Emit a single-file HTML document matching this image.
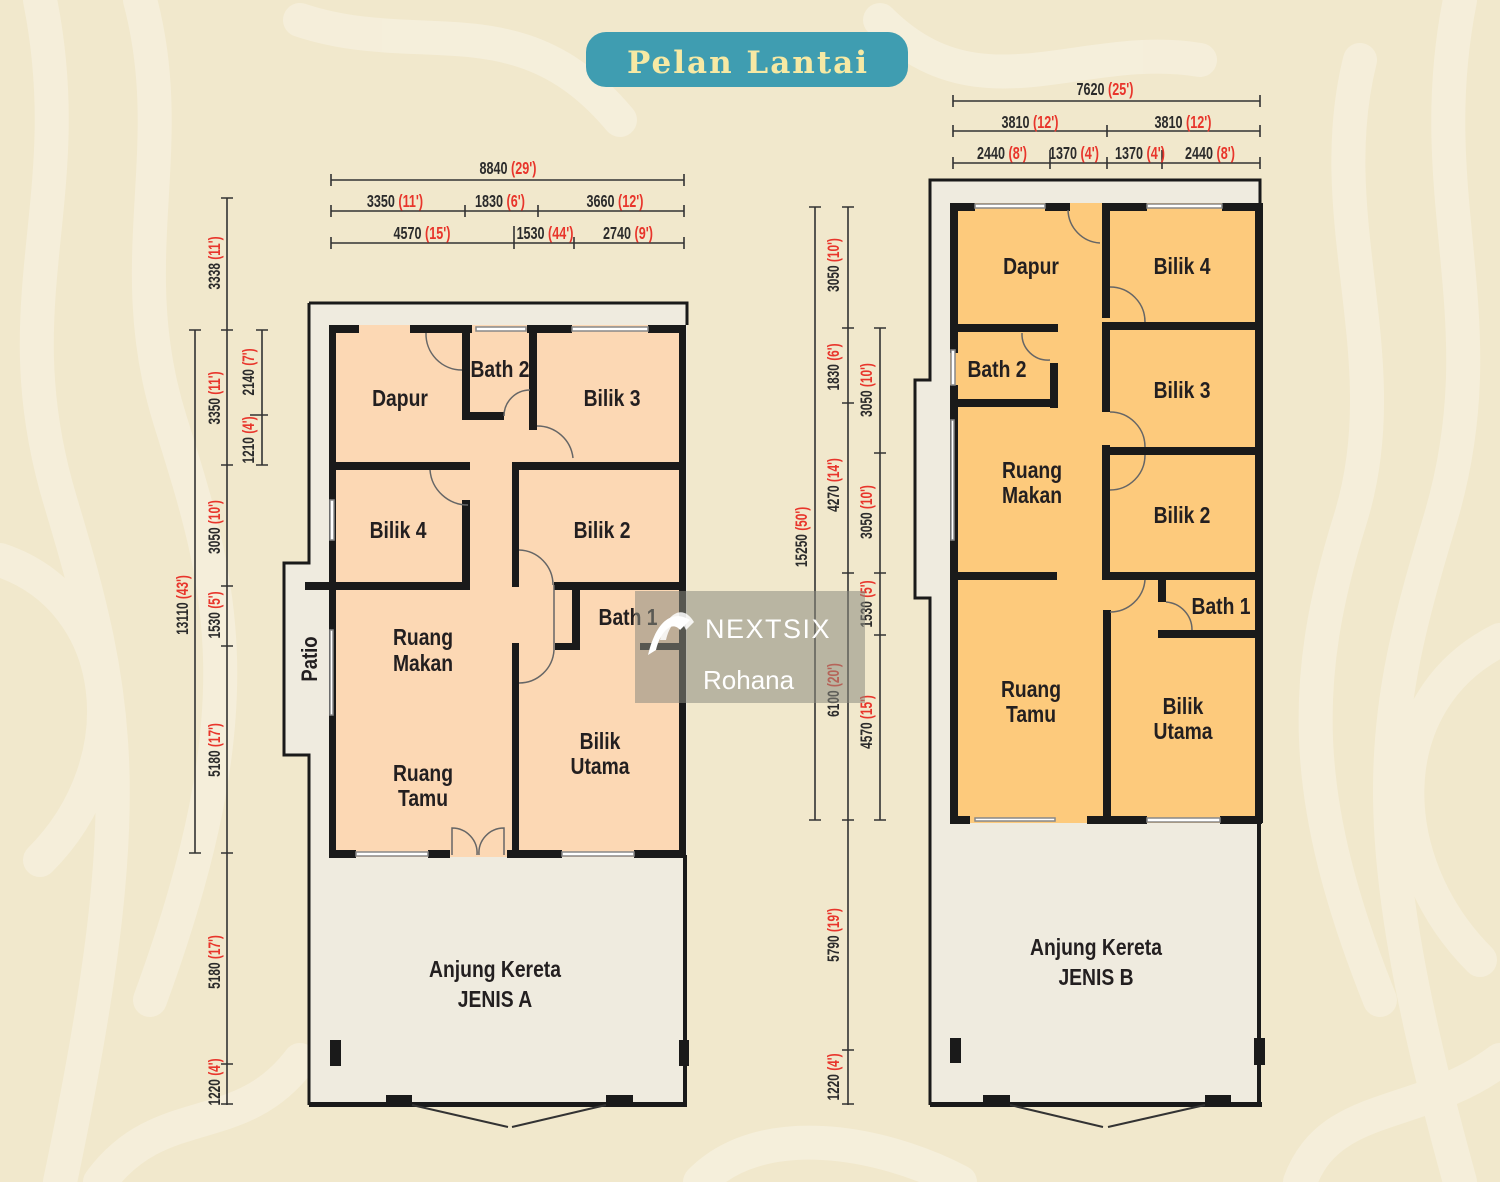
<!DOCTYPE html>
<html><head><meta charset="utf-8"><style>
html,body{margin:0;padding:0;background:#f2eacf}
svg{display:block}
.t{font-family:"Liberation Sans",sans-serif;font-weight:bold;fill:#231f20}
.d{font-family:"Liberation Sans",sans-serif;font-weight:bold;fill:#2b2b2b;font-size:18px}
.r{fill:#e8352b}
.w{fill:#1a1a1a}
.n{transform-box:fill-box;transform-origin:center;transform:scaleX(0.7)}
.m{transform-box:fill-box;transform-origin:center;transform:scaleX(0.84)}
.door{stroke:#666;stroke-width:1.5;fill:none}
</style></head><body>
<svg width="1500" height="1182" viewBox="0 0 1500 1182" xmlns="http://www.w3.org/2000/svg">
<rect width="1500" height="1182" fill="#f1e8cc"/>
<g fill="none" stroke="#f8f3e4" stroke-width="34" stroke-linecap="round" opacity="0.6">
<path d="M40 0 C80 200 0 300 60 500 S140 800 60 1182"/>
<path d="M140 0 C180 150 120 260 170 420 S260 700 150 1000"/>
<path d="M0 560 C120 600 140 760 40 860"/>
<path d="M1460 0 C1420 200 1500 320 1440 520 S1360 820 1460 1182"/>
<path d="M1360 60 C1320 220 1400 360 1350 520 S1300 800 1380 1000"/>
<path d="M1500 640 C1380 700 1380 860 1480 960"/>
<path d="M300 20 C420 60 520 0 620 120"/>
<path d="M880 20 C980 120 1080 40 1200 60"/>
<path d="M700 1182 C760 1120 880 1140 960 1182"/>
<path d="M100 1182 C160 1100 240 1140 300 1060"/>
<path d="M1300 1182 C1330 1100 1420 1120 1500 1060"/>
</g>
<rect x="586" y="32" width="322" height="55" rx="20" fill="#3f9db1"/>
<text x="748" y="73" text-anchor="middle" font-family="'DejaVu Serif','Liberation Serif',serif" font-weight="bold" font-size="31" letter-spacing="2" fill="#f6e9a4">Pelan Lantai</text>

<!-- LEFT PLAN -->
<path d="M309 303 H687 V1107 H309 V755 H284 V563 H309 Z" fill="#efebdf"/>
<path d="M309 303 H687 V325 M309 303 V563 H284 V755 H309 V1105" fill="none" stroke="#1a1a1a" stroke-width="3"/>
<rect x="329" y="325" width="355" height="532" fill="#fcd8b4"/>
<g class="w">
<rect x="329" y="325" width="7" height="532"/>
<rect x="329" y="325" width="30" height="8"/><rect x="410" y="325" width="52" height="8"/>
<rect x="462" y="325" width="10" height="8"/><rect x="527" y="325" width="45" height="8"/><rect x="648" y="325" width="36" height="8"/>
<rect x="679" y="325" width="7" height="532"/>
<rect x="462" y="325" width="8" height="95"/><rect x="462" y="412" width="42" height="8"/>
<rect x="529" y="325" width="8" height="105"/>
<rect x="333" y="462" width="137" height="8"/><rect x="512" y="462" width="172" height="8"/>
<rect x="462" y="500" width="8" height="88"/>
<rect x="512" y="462" width="7" height="125"/>
<rect x="305" y="582" width="165" height="8"/><rect x="554" y="582" width="130" height="8"/>
<rect x="572" y="585" width="8" height="60"/><rect x="555" y="643" width="25" height="7"/><rect x="640" y="643" width="44" height="7"/>
<rect x="512" y="643" width="7" height="214"/>
<rect x="329" y="850" width="27" height="8"/><rect x="428" y="850" width="22" height="8"/>
<rect x="507" y="850" width="55" height="8"/><rect x="634" y="850" width="50" height="8"/>
<rect x="683" y="855" width="4" height="252"/><rect x="679" y="1040" width="10" height="26"/>
<rect x="330" y="1040" width="11" height="26"/>
<rect x="309" y="1102" width="378" height="5"/>
<rect x="386" y="1095" width="26" height="12"/><rect x="606" y="1095" width="27" height="12"/>
</g>
<g stroke="#888" stroke-width="1.5" fill="#fff">
<rect x="476" y="327" width="50" height="4"/><rect x="572" y="327" width="76" height="4"/>
<rect x="356" y="852" width="72" height="4"/><rect x="562" y="852" width="72" height="4"/>
<rect x="330" y="500" width="4" height="40"/><rect x="330" y="630" width="3" height="85"/>
</g>
<path d="M412 1105 L508 1127 M512 1127 L606 1105" stroke="#333" stroke-width="2"/>
<g class="door">
<path d="M426 333 A36 36 0 0 0 462 370"/><path d="M504 416 A26 26 0 0 1 530 390"/>
<path d="M537 426 A36 36 0 0 1 573 458"/><path d="M430 470 A38 38 0 0 0 468 505"/>
<path d="M519 550 A35 35 0 0 1 553 585"/><path d="M519 683 A35 35 0 0 0 554 650"/>
<path d="M452 855 V828 A25 25 0 0 1 477 855"/><path d="M504 855 V828 A25 25 0 0 0 479 855"/>
<path d="M554 650 V585"/>
</g>
<g class="t" font-size="23" text-anchor="middle">
<text class="m" x="400" y="406">Dapur</text><text class="m" x="500" y="377">Bath 2</text><text class="m" x="612" y="406">Bilik 3</text>
<text class="m" x="398" y="538">Bilik 4</text><text class="m" x="602" y="538">Bilik 2</text>
<text class="m" x="628" y="625">Bath 1</text>
<text class="m" x="423" y="645">Ruang</text><text class="m" x="423" y="671">Makan</text>
<text class="m" x="423" y="781">Ruang</text><text class="m" x="423" y="806">Tamu</text>
<text class="m" x="600" y="749">Bilik</text><text class="m" x="600" y="774">Utama</text>
<text class="m" x="495" y="977">Anjung Kereta</text><text class="m" x="495" y="1007">JENIS A</text>
<g transform="translate(317 659) rotate(-90)"><text class="m" x="0" y="0" font-size="22">Patio</text></g>
</g>

<!-- RIGHT PLAN -->
<path d="M930 180 H1260 V1107 H930 V598 H915 V380 H930 Z" fill="#efebdf"/>
<path d="M1260 203 V180 H930 V380 H915 V598 H930 V1105" fill="none" stroke="#1a1a1a" stroke-width="3"/>
<rect x="950" y="203" width="312" height="620" fill="#fdca7c"/>
<g class="w">
<rect x="950" y="203" width="8" height="150"/><rect x="950" y="385" width="8" height="437"/>
<rect x="950" y="203" width="25" height="8"/><rect x="1045" y="203" width="25" height="8"/>
<rect x="1102" y="203" width="45" height="8"/><rect x="1222" y="203" width="40" height="8"/>
<rect x="1255" y="203" width="8" height="620"/>
<rect x="1102" y="203" width="8" height="115"/>
<rect x="954" y="324" width="104" height="8"/>
<rect x="1102" y="322" width="155" height="8"/>
<rect x="1050" y="363" width="8" height="45"/><rect x="954" y="399" width="104" height="8"/>
<rect x="1102" y="322" width="8" height="90"/>
<rect x="1102" y="445" width="8" height="10"/><rect x="1102" y="447" width="155" height="8"/>
<rect x="1102" y="455" width="8" height="122"/>
<rect x="954" y="572" width="103" height="8"/><rect x="1102" y="572" width="155" height="8"/>
<rect x="1158" y="578" width="8" height="24"/><rect x="1158" y="630" width="99" height="8"/>
<rect x="1103" y="610" width="8" height="212"/>
<rect x="950" y="816" width="20" height="8"/><rect x="1087" y="816" width="60" height="8"/><rect x="1220" y="816" width="42" height="8"/>
<rect x="1257" y="823" width="4" height="284"/><rect x="1254" y="1038" width="11" height="27"/>
<rect x="950" y="1038" width="11" height="25"/>
<rect x="930" y="1102" width="332" height="5"/>
<rect x="983" y="1095" width="27" height="12"/><rect x="1205" y="1095" width="26" height="12"/>
</g>
<g stroke="#888" stroke-width="1.5" fill="#fff">
<rect x="975" y="204" width="70" height="4"/><rect x="1147" y="204" width="75" height="4"/>
<rect x="1147" y="818" width="73" height="4"/><rect x="975" y="818" width="80" height="3"/>
<rect x="951" y="350" width="4" height="35"/><rect x="951" y="420" width="3" height="120"/>
</g>
<path d="M1010 1105 L1103 1127 M1108 1127 L1205 1105" stroke="#333" stroke-width="2"/>
<g class="door">
<path d="M1068 210 A34 34 0 0 0 1100 243"/><path d="M1110 287 A35 35 0 0 1 1145 322"/>
<path d="M1022 333 A26 26 0 0 0 1050 360"/><path d="M1110 412 A35 35 0 0 1 1145 447"/>
<path d="M1110 490 A35 35 0 0 0 1145 455"/><path d="M1110 612 A35 35 0 0 0 1145 580"/>
<path d="M1166 602 A28 28 0 0 1 1192 630"/>
</g>
<g class="t" font-size="23" text-anchor="middle">
<text class="m" x="1031" y="274">Dapur</text><text class="m" x="1182" y="274">Bilik 4</text>
<text class="m" x="997" y="377">Bath 2</text><text class="m" x="1182" y="398">Bilik 3</text>
<text class="m" x="1032" y="478">Ruang</text><text class="m" x="1032" y="503">Makan</text>
<text class="m" x="1182" y="523">Bilik 2</text>
<text class="m" x="1221" y="614">Bath 1</text>
<text class="m" x="1031" y="697">Ruang</text><text class="m" x="1031" y="722">Tamu</text>
<text class="m" x="1183" y="714">Bilik</text><text class="m" x="1183" y="739">Utama</text>
<text class="m" x="1096" y="955">Anjung Kereta</text><text class="m" x="1096" y="985">JENIS B</text>
</g>

<!-- DIMENSIONS -->
<g stroke="#333" stroke-width="1.6" fill="none">
<path d="M331 180 H684 M331 174 V186 M684 174 V186"/>
<path d="M331 211 H684 M331 205 V217 M465 205 V217 M538 205 V217 M684 205 V217"/>
<path d="M331 243 H684 M331 237 V249 M514 226 V249 M574 237 V249 M684 237 V249"/>
<path d="M227 198 V1105 M221 198 H233 M221 330 H233 M221 465 H233 M221 586 H233 M221 646 H233 M221 853 H233 M221 1064 H233 M221 1104 H233"/>
<path d="M195 330 V853 M189 330 H201 M189 853 H201"/>
<path d="M262 330 V465 M256 330 H268 M250 415 H268 M256 465 H268"/>
<path d="M815 207 V820 M809 207 H821 M809 820 H821"/>
<path d="M848 207 V1105 M842 207 H854 M842 328 H854 M842 403 H854 M842 573 H854 M842 820 H854 M842 1050 H854 M842 1104 H854"/>
<path d="M880 328 V820 M874 328 H886 M874 453 H886 M874 573 H886 M874 635 H886 M874 820 H886"/>
<path d="M953 101 H1260 M953 95 V107 M1260 95 V107"/>
<path d="M953 131 H1260 M953 125 V137 M1107 125 V137 M1260 125 V137"/>
<path d="M953 163 H1260 M953 157 V169 M1050 150 V169 M1107 157 V169 M1162 150 V169 M1260 157 V169"/>
</g>
<g class="d" text-anchor="middle">
<text class="n" x="508" y="174">8840 <tspan class="r">(29')</tspan></text>
<text class="n" x="395" y="207">3350 <tspan class="r">(11')</tspan></text>
<text class="n" x="500" y="207">1830 <tspan class="r">(6')</tspan></text>
<text class="n" x="615" y="207">3660 <tspan class="r">(12')</tspan></text>
<text class="n" x="422" y="239">4570 <tspan class="r">(15')</tspan></text>
<text class="n" x="545" y="239">1530 <tspan class="r">(44')</tspan></text>
<text class="n" x="628" y="239">2740 <tspan class="r">(9')</tspan></text>
<text class="n" x="1105" y="95">7620 <tspan class="r">(25')</tspan></text>
<text class="n" x="1030" y="128">3810 <tspan class="r">(12')</tspan></text>
<text class="n" x="1183" y="128">3810 <tspan class="r">(12')</tspan></text>
<text class="n" x="1002" y="159">2440 <tspan class="r">(8')</tspan></text>
<text class="n" x="1074" y="159">1370 <tspan class="r">(4')</tspan></text>
<text class="n" x="1140" y="159">1370 <tspan class="r">(4')</tspan></text>
<text class="n" x="1210" y="159">2440 <tspan class="r">(8')</tspan></text>
<g font-size="17">
<g transform="translate(220 263) rotate(-90)"><text class="n">3338 <tspan class="r">(11')</tspan></text></g>
<g transform="translate(220 398) rotate(-90)"><text class="n">3350 <tspan class="r">(11')</tspan></text></g>
<g transform="translate(220 527) rotate(-90)"><text class="n">3050 <tspan class="r">(10')</tspan></text></g>
<g transform="translate(220 615) rotate(-90)"><text class="n">1530 <tspan class="r">(5')</tspan></text></g>
<g transform="translate(220 750) rotate(-90)"><text class="n">5180 <tspan class="r">(17')</tspan></text></g>
<g transform="translate(220 962) rotate(-90)"><text class="n">5180 <tspan class="r">(17')</tspan></text></g>
<g transform="translate(220 1082) rotate(-90)"><text class="n">1220 <tspan class="r">(4')</tspan></text></g>
<g transform="translate(188 605) rotate(-90)"><text class="n">13110 <tspan class="r">(43')</tspan></text></g>
<g transform="translate(254 372) rotate(-90)"><text class="n">2140 <tspan class="r">(7')</tspan></text></g>
<g transform="translate(254 440) rotate(-90)"><text class="n">1210 <tspan class="r">(4')</tspan></text></g>
<g transform="translate(807 537) rotate(-90)"><text class="n">15250 <tspan class="r">(50')</tspan></text></g>
<g transform="translate(839 265) rotate(-90)"><text class="n">3050 <tspan class="r">(10')</tspan></text></g>
<g transform="translate(839 367) rotate(-90)"><text class="n">1830 <tspan class="r">(6')</tspan></text></g>
<g transform="translate(839 485) rotate(-90)"><text class="n">4270 <tspan class="r">(14')</tspan></text></g>
<g transform="translate(839 690) rotate(-90)"><text class="n">6100 <tspan class="r">(20')</tspan></text></g>
<g transform="translate(839 935) rotate(-90)"><text class="n">5790 <tspan class="r">(19')</tspan></text></g>
<g transform="translate(839 1077) rotate(-90)"><text class="n">1220 <tspan class="r">(4')</tspan></text></g>
<g transform="translate(872 390) rotate(-90)"><text class="n">3050 <tspan class="r">(10')</tspan></text></g>
<g transform="translate(872 512) rotate(-90)"><text class="n">3050 <tspan class="r">(10')</tspan></text></g>
<g transform="translate(872 604) rotate(-90)"><text class="n">1530 <tspan class="r">(5')</tspan></text></g>
<g transform="translate(872 722) rotate(-90)"><text class="n">4570 <tspan class="r">(15')</tspan></text></g>
</g>
</g>

<rect x="635" y="591" width="230" height="112" fill="#8a8a80" opacity="0.55"/>
<g fill="#fff">
<path d="M648 655 C655 625 670 608 690 620 L680 630 C672 620 660 632 656 650 Z"/>
<path d="M660 640 C665 615 682 602 694 622 L686 630 C680 615 670 622 666 640 Z" opacity="0.85"/>
</g>
<text x="705" y="638" font-family="'Liberation Sans',sans-serif" font-size="27" letter-spacing="1.5" fill="#fff">NEXTSIX</text>
<text x="703" y="689" font-family="'Liberation Sans',sans-serif" font-size="26" fill="#fff">Rohana</text>
</svg>
</body></html>
